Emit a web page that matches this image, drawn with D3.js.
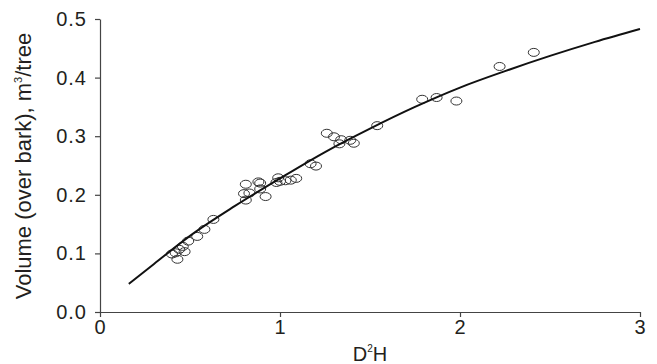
<!DOCTYPE html>
<html>
<head>
<meta charset="utf-8">
<script src="https://cdn.jsdelivr.net/npm/d3@7"></script>
<style>
  body { margin: 0; background: #fff; }
  svg text { font-family: "Liberation Sans", Arial, sans-serif; fill: #231f20; }
</style>
</head>
<body>
<div id="chart"></div>
<script>
// observed trees: D2H and volume
const obsX = [0.40, 0.42, 0.44, 0.46, 0.47, 0.43, 0.49, 0.54, 0.58, 0.63,
  0.81, 0.88, 0.89, 0.89, 0.80, 0.83, 0.92, 0.81, 0.98, 0.99, 1.00, 1.03, 1.06, 1.09,
  1.17, 1.20, 1.26, 1.30, 1.34, 1.39, 1.33, 1.41,
  1.54, 1.79, 1.87, 1.98, 2.22, 2.41];
const obsY = [0.099, 0.101, 0.107, 0.112, 0.103, 0.090, 0.121, 0.129, 0.141, 0.158,
  0.218, 0.222, 0.220, 0.210, 0.202, 0.203, 0.197, 0.191, 0.221, 0.229, 0.223, 0.224, 0.225, 0.228,
  0.253, 0.249, 0.305, 0.299, 0.294, 0.293, 0.287, 0.288,
  0.318, 0.363, 0.366, 0.360, 0.419, 0.443];

// fitted curve
const fitX = [0.16, 0.3, 0.5, 0.75, 1.0, 1.25, 1.5, 1.75, 2.0, 2.25, 2.5, 2.75, 3.0];
const fitY = [0.048, 0.082, 0.130, 0.181, 0.228, 0.273, 0.313, 0.350, 0.383, 0.411, 0.437, 0.461, 0.483];

const xTicks = [0, 1, 2, 3];
const yTicks = [0, 0.1, 0.2, 0.3, 0.4, 0.5];

const width = 657, height = 364;
const margin = { top: 19, right: 17, bottom: 52, left: 100 };

const svg = d3.select('#chart')
  .append('svg')
  .attr('width', width)
  .attr('height', height);

const xScale = d3.scaleLinear().domain([0, 3]).range([margin.left, width - margin.right]);
const yScale = d3.scaleLinear().domain([0, 0.5]).range([height - margin.bottom, margin.top]);

// X-axis
svg.append('g')
  .attr('transform', `translate(0, ${height - margin.bottom})`)
  .call(d3.axisBottom(xScale).tickValues(xTicks).tickFormat(d3.format('d')).tickSize(5).tickSizeOuter(0).tickPadding(3));

// Y-axis
svg.append('g')
  .attr('transform', `translate(${margin.left}, 0)`)
  .call(d3.axisLeft(yScale).tickValues(yTicks).tickFormat(d3.format('.1f')).tickSize(5).tickSizeOuter(0).tickPadding(8));

svg.selectAll('.domain, .tick line').attr('stroke', '#444').attr('stroke-width', 1.2);
svg.selectAll('.tick text')
  .attr('font-size', '20px')
  .attr('letter-spacing', '1px')
  .attr('fill', '#231f20');

// axis labels
svg.append('text')
  .attr('x', xScale(1.5))
  .attr('y', 361)
  .attr('text-anchor', 'middle')
  .attr('font-size', '20px')
  .html('D<tspan font-size="10px" dy="-9">2</tspan><tspan dy="9">H</tspan>');

svg.append('text')
  .attr('transform', 'rotate(-90)')
  .attr('x', -166)
  .attr('y', 31)
  .attr('text-anchor', 'middle')
  .attr('font-size', '22px')
  .html('Volume (over bark), m<tspan font-size="11px" dy="-9">3</tspan><tspan dy="9">/tree</tspan>');

// observations
svg.append('g')
  .selectAll('ellipse')
  .data(obsX.map((x, i) => ({ x, y: obsY[i] })))
  .join('ellipse')
  .attr('cx', d => xScale(d.x))
  .attr('cy', d => yScale(d.y))
  .attr('rx', 5.5)
  .attr('ry', 4)
  .attr('fill', 'none')
  .attr('stroke', '#333')
  .attr('stroke-width', 1);

// fitted line
const line = d3.line()
  .x(d => xScale(d[0]))
  .y(d => yScale(d[1]))
  .curve(d3.curveMonotoneX);

svg.append('path')
  .datum(fitX.map((x, i) => [x, fitY[i]]))
  .attr('d', line)
  .attr('fill', 'none')
  .attr('stroke', '#111')
  .attr('stroke-width', 2);
</script>
</body>
</html>
